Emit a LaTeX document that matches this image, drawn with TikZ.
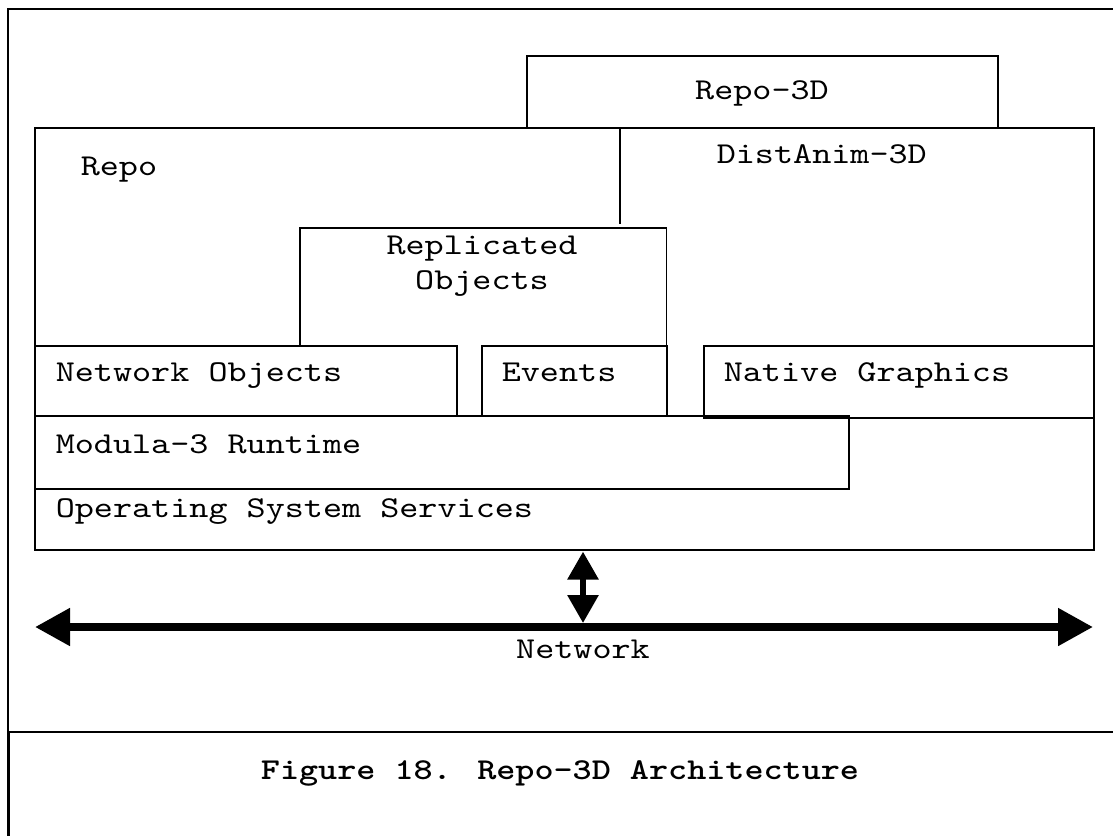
\documentclass[tikz,border=0pt]{standalone}
\usepackage{fontspec}
\newfontfamily\courfont{lmmono10-regular}[Extension=.otf,FakeStretch=1.2]
\newfontfamily\courbold{lmmonolt10-bold}[Extension=.otf,FakeStretch=1.2]
\usetikzlibrary{arrows.meta,positioning}

\begin{document}
\begin{tikzpicture}[x=1pt,y=-1pt,line width=1.6pt,
                    font=\courfont\fontsize{30.3}{35}\selectfont]
  \tikzstyle{box}=[draw,rectangle,anchor=north west,inner sep=0pt]
  \tikzstyle{lbl}=[anchor=base west,inner sep=0pt]
  \tikzstyle{netline}=[line width=8pt,
    {Triangle[length=35pt,width=36pt]}-{Triangle[length=35pt,width=36pt]}]
  \tikzstyle{updown}=[line width=6pt,
    {Triangle[length=28pt,width=30pt]}-{Triangle[length=28pt,width=30pt]}]

  \useasboundingbox (0,0) rectangle (1113,836);

  % frame
  \coordinate (tl) at (8,9);
  \coordinate (tr) at (1113,9);
  \coordinate (ml) at (8,732);
  \coordinate (mr) at (1113,732);
  \coordinate (bl) at (8,836);
  \draw (tr) -- (tl) -- (ml) -- (mr);
  \draw[line width=3pt] (ml) -- (bl);

  % boxes
  \node[box,minimum width=1059pt,minimum height=422pt] (repo) at (34,127) {};
  \node[box,minimum width=471pt,minimum height=72pt] (repo3d) at (526,55) {};
  \node[box,draw=none,minimum width=365pt,minimum height=117pt] (repl) at (300,228) {};
  \node[box,minimum width=422pt,minimum height=70pt] (netobj) at (34,345) {};
  \node[box,minimum width=185pt,minimum height=70pt] (events) at (481,345) {};
  \node[box,minimum width=390pt,minimum height=72pt] (native) at (703,345) {};
  \node[box,minimum width=814pt,minimum height=73pt] (modula) at (34,415) {};

  \draw (repl.south west) -- (repl.north west) -- (repl.north east) -- (repl.south east);
  \coordinate (stem) at (620,224);
  \draw (repo3d.south -| stem) -- (stem);

  % texts
  \node[anchor=base] (repo3dtxt) at (762,99) {Repo-3D};
  \node[lbl] (repotxt) at (80,175) {Repo};
  \node[lbl] (distanim) at (716,163) {DistAnim-3D};
  \node[align=center,inner sep=0pt] (repltxt) at (482,266) {Replicated\\Objects};
  \node[lbl] (netobjtxt) at (55,381) {Network Objects};
  \node[lbl] (eventstxt) at (501,381) {Events};
  \node[lbl] (nativetxt) at (723,381) {Native Graphics};
  \node[lbl] (modulatxt) at (55,453) {Modula-3 Runtime};
  \node[lbl] (ostxt) at (55,517) {Operating System Services};

  % network
  \coordinate (netL) at (35,627);
  \coordinate (netR) at (1093,627);
  \coordinate (hub) at (583,627);
  \draw[netline] (netL) -- (netR);
  \draw[updown] ([yshift=-1pt]repo.south -| hub) -- ([yshift=4pt]hub);
  \node[anchor=base] (nettxt) at (583,658) {Network};

  % caption
  \node[anchor=base,font=\courbold\fontsize{30.3}{35}\selectfont] (caption)
    at (560,779) {Figure 18. Repo-3D Architecture};
\end{tikzpicture}
\end{document}
